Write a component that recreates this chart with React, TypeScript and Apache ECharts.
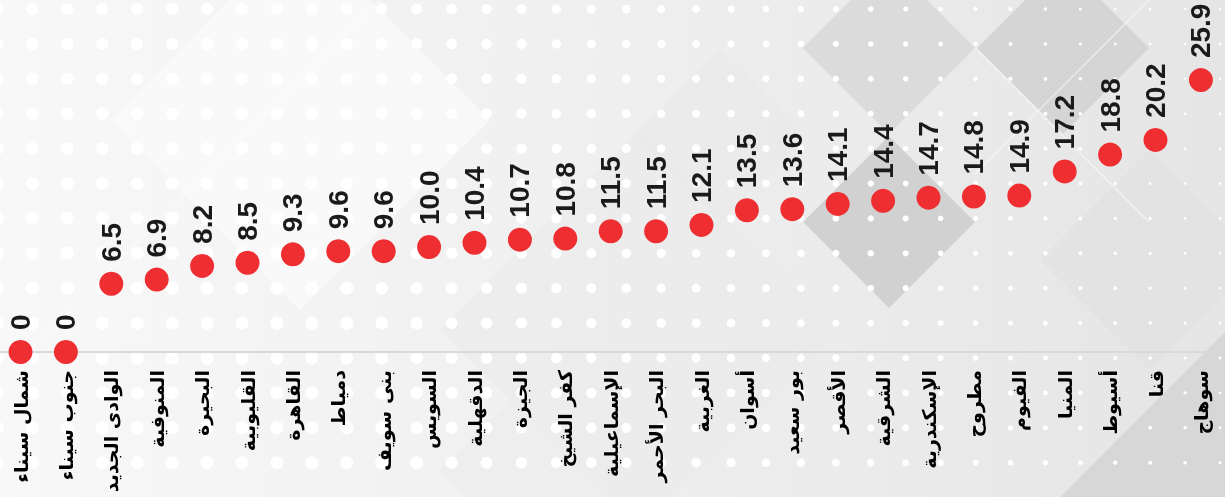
import React, { useEffect, useRef } from "react";
import * as echarts from "echarts";

const categories: string[] = [
  "شمال سيناء",
  "جنوب سيناء",
  "الوادى الجديد",
  "المنوفية",
  "البحيرة",
  "القليوبية",
  "القاهرة",
  "دمياط",
  "بنى سويف",
  "السويس",
  "الدقهلية",
  "الجيزة",
  "كفر الشيخ",
  "الإسماعيلية",
  "البحر الأحمر",
  "الغربية",
  "أسوان",
  "بور سعيد",
  "الأقصر",
  "الشرقية",
  "الإسكندرية",
  "مطروح",
  "الفيوم",
  "المنيا",
  "أسيوط",
  "قنا",
  "سوهاج",
];

const values: number[] = [
  0, 0, 6.5, 6.9, 8.2, 8.5, 9.3, 9.6, 9.6, 10.0, 10.4, 10.7, 10.8, 11.5, 11.5,
  12.1, 13.5, 13.6, 14.1, 14.4, 14.7, 14.8, 14.9, 17.2, 18.8, 20.2, 25.9,
];

const W = 1225;
const H = 497;

function diamond(cx: number, cy: number, h: number, fill: string, opacity = 1) {
  return {
    type: "polygon",
    silent: true,
    z: -100,
    shape: {
      points: [
        [cx, cy - h],
        [cx + h, cy],
        [cx, cy + h],
        [cx - h, cy],
      ],
    },
    style: { fill, opacity },
  };
}

function buildBackground(): any[] {
  const els: any[] = [];
  els.push({
    type: "rect",
    silent: true,
    z: -110,
    shape: { x: 0, y: 0, width: W, height: H },
    style: {
      fill: new echarts.graphic.LinearGradient(0, 0, 1, 0, [
        { offset: 0, color: "#f8f8f8" },
        { offset: 0.45, color: "#f0f0f0" },
        { offset: 1, color: "#e5e5e5" },
      ]),
    },
  });
  // faint large shapes
  els.push(diamond(300, 120, 190, "#fbfbfb", 0.7));
  els.push(diamond(640, 330, 200, "#eaeaea", 0.5));
  els.push(diamond(720, 135, 86, "#e9e9e9", 0.7));
  els.push(diamond(560, 470, 120, "#ededed", 0.6));
  els.push(diamond(1150, 260, 110, "#e1e1e1", 0.6));
  // darker diamonds
  els.push(diamond(889, 48, 86, "#dbdbdb"));
  els.push(diamond(889, 222, 86, "#d1d1d1"));
  els.push(diamond(1063, 48, 86, "#d5d5d5"));
  els.push(diamond(1225, 497, 165, "#d7d7d7"));
  // thin white diagonal lines
  const lines = [
    [0, 380, 380, 0],
    [975, 48, 1149, 222],
    [1149, 0, 975, 174],
  ];
  lines.forEach(([x1, y1, x2, y2]) =>
    els.push({
      type: "line",
      silent: true,
      z: -90,
      shape: { x1, y1, x2, y2 },
      style: { stroke: "#ffffff", lineWidth: 1.2, opacity: 0.6 },
    })
  );
  // dot grid
  for (let r = 0; r < 14; r++) {
    const y = 9 + r * 34.9;
    for (let c = 0; c < 36; c++) {
      const x = -2.5 + c * 34.93;
      let rad = 6.5 - 0.006 * Math.max(0, x - 330) + 0.002 * (y - 250);
      rad = Math.max(1.3, Math.min(6.5, rad));
      els.push({
        type: "circle",
        silent: true,
        z: -80,
        shape: { cx: x, cy: y, r: rad },
        style: { fill: "#ffffff" },
      });
    }
  }
  return els;
}

export default function App() {
  const ref = useRef<HTMLDivElement>(null);

  useEffect(() => {
    if (!ref.current) return;
    const chart = echarts.init(ref.current, undefined, { renderer: "svg" });
    chart.setOption({
      animation: false,
      graphic: { elements: buildBackground() },
      grid: {
        left: -2.2,
        right: 1.4,
        top: 37,
        bottom: 145,
        containLabel: false,
        outerBoundsMode: "none",
      },
      xAxis: {
        type: "category",
        data: categories,
        boundaryGap: true,
        axisTick: { show: false },
        axisLine: { show: true, lineStyle: { color: "#d9d9d9", width: 2 } },
        splitLine: { show: false },
        axisLabel: {
          interval: 0,
          rotate: 90,
          margin: 18,
          fontSize: 19,
          fontWeight: "bold",
          color: "#000000",
          fontFamily: "'DejaVu Sans', sans-serif",
        },
      },
      yAxis: {
        type: "value",
        min: 0,
        max: 30,
        show: false,
        splitLine: { show: false },
      },
      series: [
        {
          type: "scatter",
          data: values,
          symbol: "circle",
          symbolSize: 24,
          itemStyle: { color: "#ee2e31", opacity: 1 },
          label: {
            show: true,
            position: "top",
            distance: 10,
            rotate: 90,
            align: "left",
            verticalAlign: "middle",
            fontSize: 28,
            fontWeight: "bold",
            color: "#1a1a1a",
            opacity: 1,
            fontFamily: "'Liberation Sans', Arial, sans-serif",
            formatter: (p: any) => (p.value === 0 ? "0" : Number(p.value).toFixed(1)),
          },
        },
      ],
    });
    return () => chart.dispose();
  }, []);

  return (
    <div
      ref={ref}
      style={{ position: "fixed", left: 0, top: 0, width: W, height: H }}
    />
  );
}
